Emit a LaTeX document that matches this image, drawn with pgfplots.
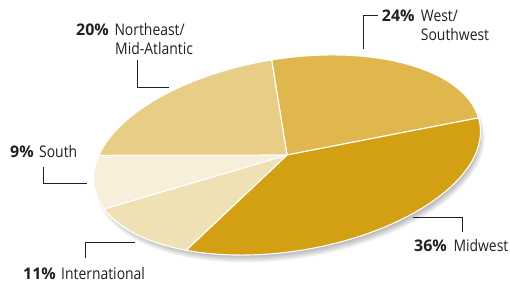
\documentclass[border=0pt]{standalone}
\usepackage{pgfplots}
\usepackage{pgfplotstable}
\pgfplotsset{compat=1.18}
\usepackage{fontspec}
\setmainfont{Open Sans}[FakeStretch=0.87]
\newfontfamily\numfont{Open Sans}
\definecolor{cW}{HTML}{E0B74C}
\definecolor{cM}{HTML}{D4A013}
\definecolor{cN}{HTML}{E8CD87}
\definecolor{cI}{HTML}{F0E1B5}
\definecolor{cS}{HTML}{F8EFDA}
\definecolor{txt}{HTML}{231F20}
\pgfplotstableread{
region pct
West 24
Midwest 36
International 11
South 9
Northeast 20
}\piedata
\begin{document}
\begin{tikzpicture}
\def\tA{90}
\pgfplotstablegetelem{0}{pct}\of\piedata\pgfmathsetmacro\tB{\tA-3.6*\pgfplotsretval}
\pgfplotstablegetelem{1}{pct}\of\piedata\pgfmathsetmacro\tC{\tB-3.6*\pgfplotsretval}
\pgfplotstablegetelem{2}{pct}\of\piedata\pgfmathsetmacro\tD{\tC-3.6*\pgfplotsretval}
\pgfplotstablegetelem{3}{pct}\of\piedata\pgfmathsetmacro\tE{\tD-3.6*\pgfplotsretval}
\pgfplotstablegetelem{4}{pct}\of\piedata\pgfmathsetmacro\tF{\tE-3.6*\pgfplotsretval}
\begin{axis}[hide axis, scale only axis, width=510bp, height=285bp,
  xmin=0, xmax=510, ymin=0, ymax=285, clip=false]
\path (rel axis cs:0,0) rectangle (rel axis cs:1,1);
% shadow
\pgfplotsinvokeforeach{0,...,9}{
  \fill[black, opacity=0.05, shift={(axis cs:290,124)}, rotate=9.2] (0,0) ellipse[x radius={185bp+#1*1.3bp}, y radius={86bp+#1*1.3bp}];
}
\begin{scope}[shift={(axis cs:287,130)}, rotate=9.2]
\filldraw[fill=cW, draw=white, line width=1.1bp, line join=round] (0,0) -- (\tA:195.4bp and 96.3bp) arc[start angle=\tA, end angle=\tB, x radius=195.4bp, y radius=96.3bp] -- cycle;
\filldraw[fill=cM, draw=white, line width=1.1bp, line join=round] (0,0) -- (\tB:195.4bp and 96.3bp) arc[start angle=\tB, end angle=\tC, x radius=195.4bp, y radius=96.3bp] -- cycle;
\filldraw[fill=cI, draw=white, line width=1.1bp, line join=round] (0,0) -- (\tC:195.4bp and 96.3bp) arc[start angle=\tC, end angle=\tD, x radius=195.4bp, y radius=96.3bp] -- cycle;
\filldraw[fill=cS, draw=white, line width=1.1bp, line join=round] (0,0) -- (\tD:195.4bp and 96.3bp) arc[start angle=\tD, end angle=\tE, x radius=195.4bp, y radius=96.3bp] -- cycle;
\filldraw[fill=cN, draw=white, line width=1.1bp, line join=round] (0,0) -- (\tE:195.4bp and 96.3bp) arc[start angle=\tE, end angle=\tF, x radius=195.4bp, y radius=96.3bp] -- cycle;
\end{scope}
% leader lines
\addplot[txt, line width=0.9bp, mark=none] coordinates {(137,225) (137,198) (169,198)};
\addplot[txt, line width=0.9bp, mark=none] coordinates {(363,236) (363,270) (378,270)};
\addplot[txt, line width=0.9bp, mark=none] coordinates {(43,118) (43,102) (87,102)};
\addplot[txt, line width=0.9bp, mark=none] coordinates {(85,27) (85,43) (135,43)};
\addplot[txt, line width=0.9bp, mark=none] coordinates {(413,68) (462,68) (462,53)};
% labels
\tikzset{lab/.style={anchor=base west, inner sep=0pt, text=txt, font=\fontsize{16bp}{19bp}\selectfont},
  num/.style={lab, font=\fontsize{16bp}{19bp}\selectfont\numfont\bfseries}}
\node[num] at (axis cs:76,249.3) {20\%};
\node[lab] at (axis cs:114.3,249.3) {Northeast/};
\node[lab] at (axis cs:115,230) {Mid-Atlantic};
\node[num] at (axis cs:381.7,263.3) {24\%};
\node[lab] at (axis cs:420.7,263.3) {West/};
\node[lab] at (axis cs:420.7,244.3) {Southwest};
\node[num] at (axis cs:10,127.7) {9\%};
\node[lab] at (axis cs:39,127.7) {South};
\node[num] at (axis cs:23,5.7) {11\%};
\node[lab] at (axis cs:61,5.7) {International};
\node[num] at (axis cs:414,34) {36\%};
\node[lab] at (axis cs:453.3,34) {Midwest};
\end{axis}
\end{tikzpicture}
\end{document}
